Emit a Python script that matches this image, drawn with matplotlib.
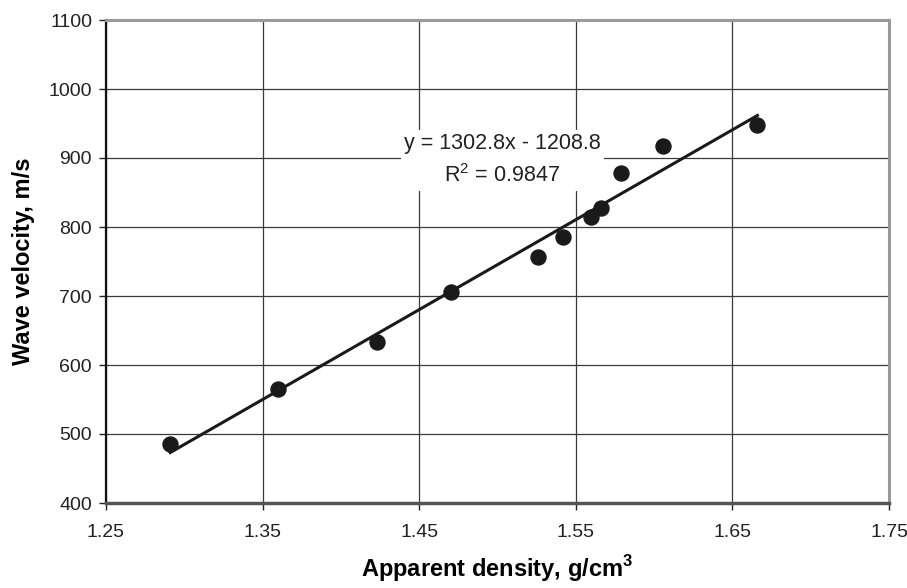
import numpy as np
import matplotlib
matplotlib.use("Agg")
import matplotlib.pyplot as plt

# dados
densidade = [1.291, 1.360, 1.423, 1.470, 1.526, 1.542, 1.560, 1.566, 1.579, 1.606, 1.666]
velocidade = [486, 565, 634, 706, 756, 785, 814, 827, 878, 918, 948]

# linha de tendência (Excel)
inclinacao = 1302.8
intercepto = -1208.8
r2 = 0.9847

x_ticks = [1.25, 1.35, 1.45, 1.55, 1.65, 1.75]
y_ticks = [400, 500, 600, 700, 800, 900, 1000, 1100]

plt.rcParams['font.family'] = ['Liberation Sans', 'DejaVu Sans']
plt.rcParams['mathtext.fontset'] = 'custom'
plt.rcParams['mathtext.rm'] = 'Liberation Sans'
plt.rcParams['mathtext.bf'] = 'Liberation Sans:bold'

fig = plt.figure(figsize=(9.07, 5.88), dpi=100)
ax = fig.add_axes([106 / 907, 1 - 503 / 588, (889 - 106) / 907, (503 - 20) / 588])

ax.set_xlim(x_ticks[0], x_ticks[-1])
ax.set_ylim(y_ticks[0], y_ticks[-1])
ax.set_xticks(x_ticks)
ax.set_yticks(y_ticks)
ax.set_xticklabels([f"{v:.2f}" for v in x_ticks])
ax.set_yticklabels([str(v) for v in y_ticks])

ax.grid(True, color='#3a3a3a', linewidth=0.9)
ax.set_axisbelow(True)

# linha de tendência
xs = np.array([min(densidade), max(densidade)])
ax.plot(xs, inclinacao * xs + intercepto, color='#1a1a1a', linewidth=2.2, zorder=3)

ax.plot(densidade, velocidade, 'o', color='#1a1a1a', markersize=10.8, zorder=4)

ax.text(1.503, 897, f"y = {inclinacao}x - {abs(intercepto)}\n" + r"R$^{\mathrm{2}}$" + f" = {r2}",
        ha='center', va='center', multialignment='center', fontsize=15.5,
        linespacing=1.6, color='#222222', zorder=5,
        bbox=dict(boxstyle='square,pad=0.15', facecolor='white', edgecolor='none'))

# bordas
ax.spines['left'].set_color('#111111')
ax.spines['left'].set_linewidth(1.6)
ax.spines['bottom'].set_color('#555555')
ax.spines['bottom'].set_linewidth(2.5)
ax.spines['top'].set_color('#999999')
ax.spines['top'].set_linewidth(2.2)
ax.spines['right'].set_color('#999999')
ax.spines['right'].set_linewidth(2.2)

ax.tick_params(axis='x', direction='out', length=5, width=1, color='#222222',
               labelsize=14, pad=10, labelcolor='#222222')
ax.tick_params(axis='y', direction='out', length=5, width=1, color='#222222',
               labelsize=14, pad=5, labelcolor='#222222')

ax.set_xlabel(r"Apparent density, g/cm$^{\mathbf{3}}$", fontsize=17, fontweight='bold', labelpad=9)
ax.set_ylabel("Wave velocity, m/s", fontsize=17, fontweight='bold', labelpad=10)

fig.savefig("out.png", dpi=100)
